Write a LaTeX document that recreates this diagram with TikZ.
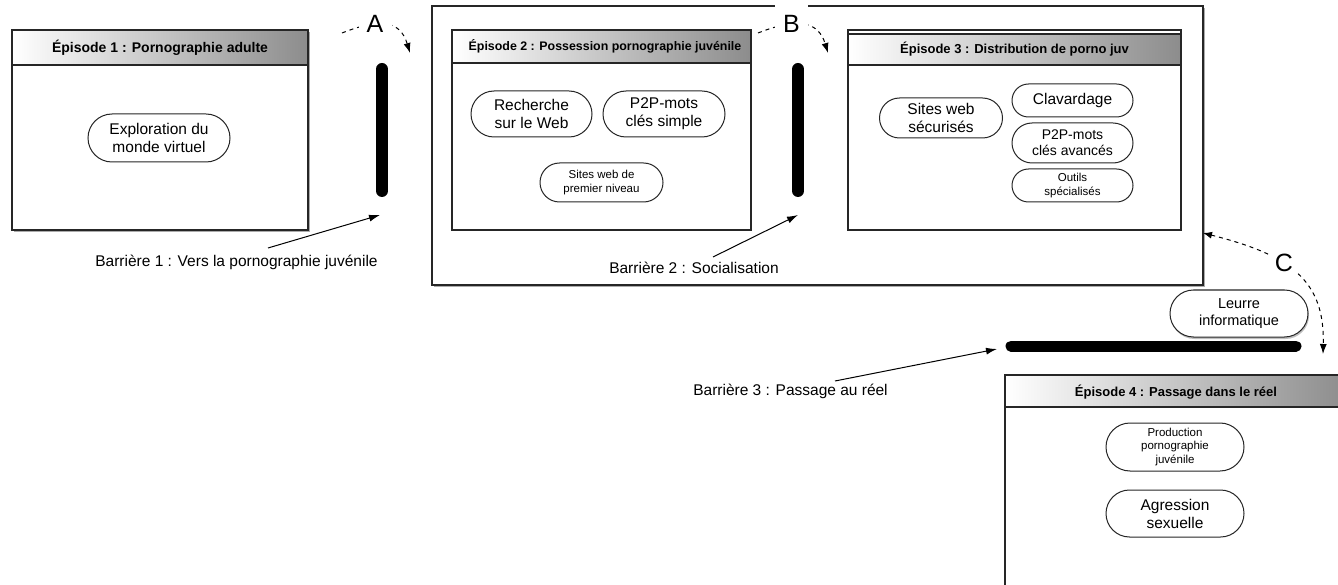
\documentclass[tikz,border=0pt]{standalone}
\usepackage{fontspec}
\setmainfont{Liberation Sans}
\usetikzlibrary{shapes.misc,shadows,arrows.meta}
\tikzset{
 box/.style={draw=black!85,line width=1.1pt,fill=white},
 boxsh/.style={box,drop shadow={shadow xshift=1.5pt,shadow yshift=-2.5pt,fill=black!55,opacity=0.6}},
 hdr/.style={left color=white,right color=black!45,draw=black!85,line width=1.1pt},
 htxt/.style={font=\bfseries\fontsize{13}{15}\selectfont,inner sep=0pt},
 pill/.style={draw=black!85,line width=1pt,rounded rectangle,fill=white,align=center,inner sep=0pt,font=\fontsize{15.5}{18}\selectfont},
 spill/.style={pill,font=\fontsize{11.5}{13.5}\selectfont},
 barline/.style={line width=12pt,line cap=round},
 lbl/.style={font=\fontsize{15.5}{18}\selectfont,inner sep=0pt},
 barr/.style={line width=1pt,-{Latex[length=11pt,width=7pt]}},
 dasharr/.style={line width=1pt,dash pattern=on 4pt off 4pt,-{Latex[length=10pt,width=7pt]}},
 letter/.style={fill=white,font=\fontsize{25}{25}\selectfont,inner sep=0pt,minimum width=33pt,minimum height=42pt}
}
\begin{document}
\begin{tikzpicture}[x=1pt,y=-1pt]
\useasboundingbox (0,0) rectangle (1338,585);
\clip (0,0) rectangle (1338,585);
\fill[white] (0,0) rectangle (1338,585);

% Episode 2 outer frame
\draw[boxsh] (432,6) rectangle (1203,285);

% Episode 1
\draw[boxsh] (12,30) rectangle (308,230);
\draw[hdr] (12,30) rectangle (308,65);
\node[htxt,font=\bfseries\fontsize{14}{16}\selectfont] (h1) at (160,47.5) {Épisode 1 : Pornographie adulte};
\node[pill,minimum width=142pt,minimum height=48pt] (p11) at (159,138) {Exploration du\\monde virtuel};

% Episode 2
\draw[box] (452,30) rectangle (751,230);
\draw[hdr] (452,30) rectangle (751,63);
\node[htxt,font=\bfseries\fontsize{12.4}{15}\selectfont] (h2) at (605,46.5) {Épisode 2 : Possession pornographie juvénile};
\node[pill,minimum width=121pt,minimum height=46pt] (p21) at (531.5,114) {Recherche\\sur le Web};
\node[pill,minimum width=122pt,minimum height=46pt] (p22) at (664,114) {P2P-mots\\clés simple};
\node[spill,minimum width=123pt,minimum height=39pt] (p23) at (601.5,182.5) {Sites web de\\premier niveau};

% Episode 3
\draw[box] (848,30) rectangle (1181,230);
\draw[hdr] (848,34) rectangle (1181,65);
\node[htxt] (h3) at (1014.5,49.5) {Épisode 3 : Distribution de porno juv};
\node[pill,minimum width=123pt,minimum height=40pt] (p31) at (941,118) {Sites web\\sécurisés};
\node[pill,minimum width=121pt,minimum height=33pt] (p32) at (1072.5,100.5) {Clavardage};
\node[pill,minimum width=121pt,minimum height=40pt,font=\fontsize{14}{16}\selectfont] (p33) at (1072.5,143) {P2P-mots\\clés avancés};
\node[spill,minimum width=121pt,minimum height=33pt] (p34) at (1072.5,185.5) {Outils\\spécialisés};

% Episode 4
\draw[box] (1005,375) rectangle (1347,620);
\draw[hdr] (1005,375) rectangle (1347,407);
\node[htxt] (h4) at (1176,392) {Épisode 4 : Passage dans le réel};
\node[spill,minimum width=138pt,minimum height=48pt] (p41) at (1175,447) {Production\\pornographie\\juvénile};
\node[pill,minimum width=138pt,minimum height=47pt] (p42) at (1175,513.5) {Agression\\sexuelle};

% Barriers
\coordinate (b1t) at (382,69);
\coordinate (b1b) at (382,191);
\draw[barline] (b1t) -- (b1b);
\coordinate (b2t) at (798,69);
\coordinate (b2b) at (798,191);
\draw[barline] (b2t) -- (b2b);
\coordinate (b3l) at (1011,346);
\coordinate (b3r) at (1296,346);
\draw[line width=11pt,line cap=round] (b3l) -- (b3r);

\node[pill,minimum width=138pt,minimum height=47pt,font=\fontsize{14.5}{17}\selectfont,drop shadow={shadow xshift=1pt,shadow yshift=-2pt,fill=black!50,opacity=0.5}] (leurre) at (1239,313.5) {Leurre\\informatique};

% Barrier labels and arrows
\node[lbl] (l1) at (236.5,262) {Barrière 1 : Vers la pornographie juvénile};
\node[lbl] (l2) at (694,268) {Barrière 2 : Socialisation};
\node[lbl] (l3) at (790.5,391) {Barrière 3 : Passage au réel};
\coordinate (s1) at (268,248);
\coordinate (t1) at (380,215);
\coordinate (s2) at (713,257);
\coordinate (t2) at (798,215);
\coordinate (s3) at (835,381);
\coordinate (t3) at (997,349);
\draw[barr] (s1) -- (t1);
\draw[barr] (s2) -- (t2);
\draw[barr] (s3) -- (t3);

% Transitions A, B, C
\coordinate (aS) at (342,33);
\coordinate (aE) at (410,53);
\draw[dasharr] (aS) .. controls (380,18) and (400,20) .. (aE);
\node[letter] (A) at (375,24) {A};
\coordinate (bS) at (758,33);
\coordinate (bE) at (828,53);
\draw[dasharr] (bS) .. controls (796,18) and (818,20) .. (bE);
\node[letter] (B) at (791.5,24) {B};
\coordinate (cS) at (1203,233);
\coordinate (cE) at (1323,354);
\draw[dasharr,{Latex[length=9pt,width=7pt]}-{Latex[length=10pt,width=7pt]}] (cS) .. controls (1290,255) and (1325,280) .. (cE);
\node[letter,minimum height=26pt,minimum width=26pt] (C) at (1284,262.5) {C};
\end{tikzpicture}
\end{document}
